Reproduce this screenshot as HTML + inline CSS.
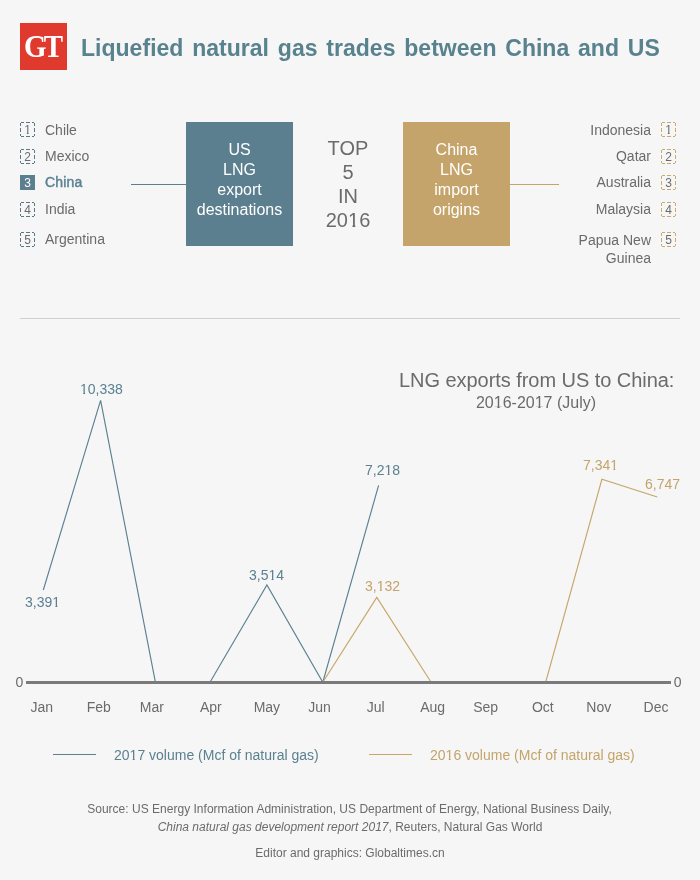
<!DOCTYPE html>
<html>
<head>
<meta charset="utf-8">
<style>
html,body{margin:0;padding:0;}
body{width:700px;height:880px;background:#f6f6f6;position:relative;overflow:hidden;will-change:transform;font-family:"Liberation Sans",sans-serif;}
.a{position:absolute;white-space:nowrap;}
.logo{left:20px;top:23px;width:47px;height:47px;background:#e0392e;}
.logo span{position:absolute;left:4px;top:9px;white-space:nowrap;font-family:"Liberation Serif",serif;font-weight:bold;color:#fff;font-size:30.5px;line-height:30.5px;letter-spacing:-3px;transform:scaleX(0.95);transform-origin:0 0;}
.title{left:81px;top:36px;font-size:24px;line-height:24px;font-weight:bold;color:#58828e;word-spacing:2.5px;transform:scaleX(0.96);transform-origin:0 0;}
.li{font-size:14px;line-height:14px;color:#6b6b6b;}
.num{font-size:12px;line-height:12px;color:#6b6b6b;width:15px;text-align:center;}
.box{width:107px;height:124px;top:122px;color:#fff;font-size:16px;line-height:20px;text-align:center;}
.box div{position:absolute;left:0;width:107px;top:18px;}
.top5{left:298px;width:100px;top:136px;font-size:20px;line-height:24px;color:#6b6b6b;text-align:center;}
.ml{font-size:14px;line-height:14px;color:#6b6b6b;width:60px;text-align:center;}
.val{font-size:14px;line-height:14px;}
.b{color:#5b8191;}
.g{color:#c4a46a;}
.foot{left:0;width:700px;text-align:center;font-size:12px;line-height:12px;color:#6b6b6b;}
.one{display:inline-block;line-height:1em;clip-path:polygon(0 0,100% 0,100% 0.755em,0.365em 0.755em,0.365em 100%,0.225em 100%,0.225em 0.755em,0 0.755em);}
</style>
</head>
<body>
<div class="a logo"><span>G<span style="letter-spacing:0;position:static">T</span></span></div>
<div class="a title">Lique&#xFB01;ed natural gas trades between China and US</div>

<!-- left list -->
<svg class="a" style="left:0;top:0" width="700" height="880">
  <path fill="#56798a" d="M20 122h4v1h-4zM20 136h4v1h-4zM20 122v4h1v-4zM34 122v4h1v-4zM26 122h4v1h-4zM26 136h4v1h-4zM20 128v4h1v-4zM34 128v4h1v-4zM32 122h3v1h-3zM32 136h3v1h-3zM20 134v3h1v-3zM34 134v3h1v-3zM20 149h4v1h-4zM20 163h4v1h-4zM20 149v4h1v-4zM34 149v4h1v-4zM26 149h4v1h-4zM26 163h4v1h-4zM20 155v4h1v-4zM34 155v4h1v-4zM32 149h3v1h-3zM32 163h3v1h-3zM20 161v3h1v-3zM34 161v3h1v-3zM20 202h4v1h-4zM20 216h4v1h-4zM20 202v4h1v-4zM34 202v4h1v-4zM26 202h4v1h-4zM26 216h4v1h-4zM20 208v4h1v-4zM34 208v4h1v-4zM32 202h3v1h-3zM32 216h3v1h-3zM20 214v3h1v-3zM34 214v3h1v-3zM20 232h4v1h-4zM20 246h4v1h-4zM20 232v4h1v-4zM34 232v4h1v-4zM26 232h4v1h-4zM26 246h4v1h-4zM20 238v4h1v-4zM34 238v4h1v-4zM32 232h3v1h-3zM32 246h3v1h-3zM20 244v3h1v-3zM34 244v3h1v-3z"/>
  <path fill="#c8ab68" d="M661 122h4v1h-4zM661 136h4v1h-4zM661 122v4h1v-4zM675 122v4h1v-4zM667 122h4v1h-4zM667 136h4v1h-4zM661 128v4h1v-4zM675 128v4h1v-4zM673 122h3v1h-3zM673 136h3v1h-3zM661 134v3h1v-3zM675 134v3h1v-3zM661 149h4v1h-4zM661 163h4v1h-4zM661 149v4h1v-4zM675 149v4h1v-4zM667 149h4v1h-4zM667 163h4v1h-4zM661 155v4h1v-4zM675 155v4h1v-4zM673 149h3v1h-3zM673 163h3v1h-3zM661 161v3h1v-3zM675 161v3h1v-3zM661 175h4v1h-4zM661 189h4v1h-4zM661 175v4h1v-4zM675 175v4h1v-4zM667 175h4v1h-4zM667 189h4v1h-4zM661 181v4h1v-4zM675 181v4h1v-4zM673 175h3v1h-3zM673 189h3v1h-3zM661 187v3h1v-3zM675 187v3h1v-3zM661 202h4v1h-4zM661 216h4v1h-4zM661 202v4h1v-4zM675 202v4h1v-4zM667 202h4v1h-4zM667 216h4v1h-4zM661 208v4h1v-4zM675 208v4h1v-4zM673 202h3v1h-3zM673 216h3v1h-3zM661 214v3h1v-3zM675 214v3h1v-3zM661 232h4v1h-4zM661 246h4v1h-4zM661 232v4h1v-4zM675 232v4h1v-4zM667 232h4v1h-4zM667 246h4v1h-4zM661 238v4h1v-4zM675 238v4h1v-4zM673 232h3v1h-3zM673 246h3v1h-3zM661 244v3h1v-3zM675 244v3h1v-3z"/>
  <rect x="20" y="175" width="15" height="15" fill="#5b7f8e"/>
  <line x1="131" y1="184.5" x2="186" y2="184.5" stroke="#5b7f8e" stroke-width="1"/>
  <line x1="510" y1="184.5" x2="559" y2="184.5" stroke="#c4a46a" stroke-width="1"/>
  <line x1="20" y1="318.5" x2="680" y2="318.5" stroke="#cfcfcf" stroke-width="1"/>
</svg>

<div class="a num" style="left:20px;top:124px"><span class="one">1</span></div>
<div class="a num" style="left:20px;top:151px">2</div>
<div class="a num" style="left:20px;top:177px;color:#fff">3</div>
<div class="a num" style="left:20px;top:204px">4</div>
<div class="a num" style="left:20px;top:234px">5</div>
<div class="a li" style="left:45px;top:123px">Chile</div>
<div class="a li" style="left:45px;top:149px">Mexico</div>
<div class="a li b" style="left:45px;top:175px;-webkit-text-stroke:0.45px #5b8191;letter-spacing:0.2px">China</div>
<div class="a li" style="left:45px;top:202px">India</div>
<div class="a li" style="left:45px;top:232px">Argentina</div>

<div class="a box" style="left:186px;background:#5b7f8e"><div>US<br>LNG<br>export<br>destinations</div></div>
<div class="a top5">TOP<br>5<br>IN<br>20<span class="one">1</span>6</div>
<div class="a box" style="left:403px;background:#c4a46a"><div>China<br>LNG<br>import<br>origins</div></div>

<div class="a num" style="left:661px;top:124px"><span class="one">1</span></div>
<div class="a num" style="left:661px;top:151px">2</div>
<div class="a num" style="left:661px;top:177px">3</div>
<div class="a num" style="left:661px;top:204px">4</div>
<div class="a num" style="left:661px;top:234px">5</div>
<div class="a li" style="right:49px;top:123px">Indonesia</div>
<div class="a li" style="right:49px;top:149px">Qatar</div>
<div class="a li" style="right:49px;top:175px">Australia</div>
<div class="a li" style="right:49px;top:202px">Malaysia</div>
<div class="a li" style="right:49px;text-align:right;line-height:18px;top:231px">Papua New<br>Guinea</div>

<!-- chart -->
<div class="a" style="left:336.7px;width:400px;text-align:center;top:370px;font-size:20px;line-height:20px;letter-spacing:-0.05px;color:#6b6b6b">LNG exports from US to China:</div>
<div class="a" style="left:336px;width:400px;text-align:center;top:395px;font-size:16px;line-height:16px;color:#6b6b6b">20<span class="one">1</span>6-20<span class="one">1</span>7 (July)</div>

<svg class="a" style="left:0;top:0" width="700" height="880">
  <polyline fill="none" stroke="#5b8191" stroke-width="1.15" points="43.3,590 100.6,400.3 155.4,682.2 210,682.2 266.9,585 322.8,682.2 378.6,485.4"/>
  <polyline fill="none" stroke="#c6a66b" stroke-width="1.15" points="322.8,682.2 376.8,597.4 431.1,682.2 545.7,682.2 601.9,479.3 657.3,497"/>
  <line x1="26" y1="682.5" x2="671" y2="682.5" stroke="#7a7a7a" stroke-width="3"/>
</svg>
<div class="a" style="left:15.5px;top:675px;font-size:14px;line-height:14px;color:#6b6b6b">0</div>
<div class="a" style="left:673.7px;top:675px;font-size:14px;line-height:14px;color:#6b6b6b">0</div>

<div class="a ml" style="left:11.7px;top:700px">Jan</div>
<div class="a ml" style="left:68.8px;top:700px">Feb</div>
<div class="a ml" style="left:121.8px;top:700px">Mar</div>
<div class="a ml" style="left:180.8px;top:700px">Apr</div>
<div class="a ml" style="left:236.9px;top:700px">May</div>
<div class="a ml" style="left:289.6px;top:700px">Jun</div>
<div class="a ml" style="left:345.7px;top:700px">Jul</div>
<div class="a ml" style="left:402.7px;top:700px">Aug</div>
<div class="a ml" style="left:455.7px;top:700px">Sep</div>
<div class="a ml" style="left:512.8px;top:700px">Oct</div>
<div class="a ml" style="left:568.8px;top:700px">Nov</div>
<div class="a ml" style="left:626px;top:700px">Dec</div>

<div class="a val b" style="left:80px;top:382px"><span class="one">1</span>0,338</div>
<div class="a val b" style="left:25px;top:595px">3,39<span class="one">1</span></div>
<div class="a val b" style="left:249px;top:568px">3,5<span class="one">1</span>4</div>
<div class="a val b" style="left:365px;top:463px">7,2<span class="one">1</span>8</div>
<div class="a val g" style="left:365px;top:579px">3,<span class="one">1</span>32</div>
<div class="a val g" style="left:583px;top:458px">7,34<span class="one">1</span></div>
<div class="a val g" style="left:645px;top:477px">6,747</div>

<!-- legend -->
<svg class="a" style="left:0;top:0" width="700" height="880">
  <line x1="53" y1="754.5" x2="96" y2="754.5" stroke="#5b8191" stroke-width="1.2"/>
  <line x1="369" y1="754.5" x2="412" y2="754.5" stroke="#c6a66b" stroke-width="1.2"/>
</svg>
<div class="a b" style="left:114px;top:748px;font-size:14px;line-height:14px">20<span class="one">1</span>7 volume (Mcf of natural gas)</div>
<div class="a g" style="left:430px;top:748px;font-size:14px;line-height:14px">20<span class="one">1</span>6 volume (Mcf of natural gas)</div>

<div class="a foot" style="top:803px;letter-spacing:0.016px;left:-0.5px">Source: US Energy Information Administration, US Department of Energy, National Business Daily,</div>
<div class="a foot" style="top:821px"><i>China natural gas development report 2017</i>, Reuters, Natural Gas World</div>
<div class="a foot" style="top:847px">Editor and graphics: Globaltimes.cn</div>
</body>
</html>
